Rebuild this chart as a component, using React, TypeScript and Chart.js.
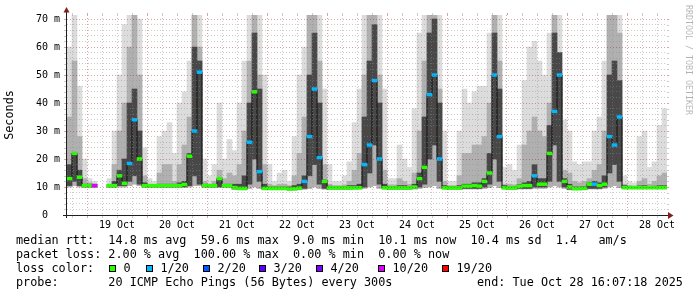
import React, { useEffect, useRef } from 'react';
import { Chart, registerables } from 'chart.js';

Chart.register(...registerables);

// time axis in hours since 18 Oct 2025 00:00; data consolidated into 2-hour bins
const X_START = 16;
const X_END = 256;
const BIN_HOURS = 2;

const dayLabels = ['19 Oct', '20 Oct', '21 Oct', '22 Oct', '23 Oct', '24 Oct', '25 Oct', '26 Oct', '27 Oct', '28 Oct'];
const dayLabelHours = [36, 60, 84, 108, 132, 156, 180, 204, 228, 252];

const yTickValues = [0, 10, 20, 30, 40, 50, 60, 70];
const yTickLabels = ['0  ', '10 m', '20 m', '30 m', '40 m', '50 m', '60 m', '70 m'];

// smoke: highest ping (light layer top)
const smokeMax = [
  60, 72, 46, 20,
  13, 12, null, null, 13, 30, 50, 68, 72, 72, 70, 24,
  13, 12, 28, 30, 33, 22, 40, 44, 55, 72, 72, 20,
  14, 18, 40, 20, 27, 23, 40, 55, 72, 72, 72, 50,
  18, 12, 15, 16, 12, 28, 50, 60, 72, 72, 72, 45,
  18, 12, 12, 14, 19, 33, 45, 72, 72, 72, 72, 45,
  13, 13, 25, 20, 17, 38, 65, 72, 72, 72, 72, 30,
  12, 12, 30, 45, 40, 44, 46, 46, 65, 72, 72, 17,
  18, 16, 25, 48, 60, 62, 55, 50, 65, 72, 72, 34,
  30, 19, 18, 19, 19, 30, 35, 55, 72, 72, 72, 14,
  12, 11.5, 28, 30, 17, 19, 32, 38,
];

// smoke: upper pings (mid layer top)
const smokeHigh = [
  35, 55, 28, 13,
  11.5, 11, null, null, 11, 18, 30, 40, 60, 72, 50, 14,
  11, 10.8, 15, 18, 18, 12, 18, 25, 35, 72, 60, 12,
  11, 12, 16, 13, 15, 14, 18, 30, 55, 72, 50, 18,
  11, 10.5, 11, 11, 10.5, 14, 22, 35, 72, 72, 55, 18,
  11, 10.5, 10.5, 10.8, 12, 16, 22, 50, 72, 72, 50, 16,
  10.8, 10.8, 13, 12, 11, 15, 30, 55, 72, 72, 45, 12,
  10.5, 10.5, 14, 22, 22, 25, 25, 28, 40, 72, 55, 11,
  11, 10.8, 13, 25, 30, 35, 30, 28, 40, 72, 50, 16,
  15, 12, 11.5, 12, 13, 16, 18, 30, 72, 72, 65, 11,
  10.5, 10.3, 12, 13, 11, 12, 14, 15,
];

// smoke: dense core around the median
const darkLo = [
  10.5, 12, 10.5, 10,
  10, 10, null, null, 10, 10, 10.5, 10.5, 12, 14, 11, 10,
  10, 10, 10, 10, 10, 10, 10, 10, 10.5, 14, 11, 10,
  10, 10, 10, 10, 10, 9.3, 9.2, 9.2, 11, 20, 12, 9.2,
  9.2, 9.2, 9.2, 9.2, 9, 9, 9.3, 9.5, 14, 18, 11, 9.5,
  9.3, 9.3, 9.3, 9.3, 9.3, 9.4, 9.5, 10, 15, 25, 11, 9.5,
  9.3, 9.3, 9.3, 9.3, 9.3, 9.5, 10, 11, 20, 25, 12, 9.5,
  9.3, 9.3, 9.3, 9.5, 9.5, 9.5, 9.5, 10, 11, 20, 12, 9.5,
  9.3, 9.3, 9.5, 9.5, 9.5, 10, 10, 10, 12, 25, 12, 10,
  9.2, 9.1, 9.1, 9.2, 9.5, 9.5, 9.5, 10, 15, 18, 12, 9.5,
  9.4, 9.4, 9.4, 9.4, 9.4, 9.4, 9.4, 9.4,
];
const darkHi = [
  18, 22, 16, 11,
  11, 11, null, null, 10.8, 12, 16, 20, 40, 45, 30, 11.5,
  10.7, 10.7, 11, 11, 11, 11, 11.5, 12, 22, 60, 55, 11,
  10.8, 11, 13, 11, 11, 11, 11, 14, 40, 65, 45, 11,
  10, 10, 10, 10, 10, 10.5, 11, 14, 50, 65, 40, 12.5,
  10.3, 10.2, 10.2, 10.2, 10.5, 10.5, 11, 35, 55, 68, 40, 11,
  10.2, 10.2, 10.5, 10.5, 10.2, 11, 15, 35, 65, 70, 40, 10.5,
  10.2, 10.2, 10.5, 11, 11, 11.5, 11.5, 13, 22, 65, 45, 10.5,
  10.2, 10.2, 10.8, 11.5, 12, 18, 13, 13, 32, 65, 58, 13,
  11, 10, 10, 10.2, 11.5, 12, 11.5, 14, 50, 55, 48, 10.5,
  10.2, 10.2, 10.4, 10.5, 10.2, 10.3, 10.5, 10.5,
];

// smoke: lowest ping
const smokeMin = [
  10, 10.5, 10, 10,
  10, 10, null, null, 10, 10, 10, 10, 10.5, 11, 10.5, 10,
  10, 10, 10, 10, 10, 10, 10, 10, 10, 10.5, 10.5, 10,
  10, 10, 10, 10, 10, 9.2, 9, 9, 9.5, 10, 9.5, 9,
  9, 9, 9, 9, 8.9, 8.9, 9, 9.2, 9.5, 10, 9.5, 9.2,
  9.2, 9.2, 9.2, 9.2, 9.2, 9.2, 9.3, 9.5, 10, 10.5, 9.5, 9.3,
  9.2, 9.2, 9.2, 9.2, 9.2, 9.3, 9.5, 9.8, 10, 10.5, 9.5, 9.3,
  9.2, 9.2, 9.2, 9.3, 9.3, 9.3, 9.3, 9.5, 9.8, 10.5, 9.8, 9.3,
  9.2, 9.2, 9.3, 9.3, 9.3, 9.5, 9.5, 9.5, 10, 10.5, 10, 9.5,
  9, 9, 9, 9, 9.3, 9.3, 9.3, 9.5, 10, 10.5, 9.8, 9.3,
  9.3, 9.3, 9.3, 9.3, 9.3, 9.3, 9.3, 9.3,
];

// median rtt (ms)
const medianRtt = [
  13, 22, 13.5, 10.5,
  10.5, 10.5, null, null, 10.5, 10.5, 14, 11.3, 18.4, 34, 20, 10.5,
  10.5, 10.5, 10.5, 10.5, 10.5, 10.5, 10.5, 10.9, 21, 30, 51, 10.5,
  10.5, 10.5, 13, 10.5, 10.5, 9.8, 9.5, 9.5, 26, 44, 15.5, 9.5,
  9.5, 9.5, 9.5, 9.5, 9.3, 9.4, 9.6, 12, 28, 45, 20.5, 12,
  9.7, 9.7, 9.7, 9.7, 9.7, 9.7, 9.7, 18, 25, 48, 20, 9.7,
  9.7, 9.7, 9.7, 9.7, 9.7, 10, 13, 17, 43, 50, 20, 9.7,
  9.7, 9.7, 9.7, 10.3, 10.3, 10.5, 10.3, 12, 15, 50, 28, 9.7,
  9.7, 9.7, 10.2, 10.5, 10.5, 14, 11, 11, 22, 37, 50, 12,
  10, 9.4, 9.4, 9.6, 11, 11, 10.5, 11, 28, 25, 35, 9.8,
  9.8, 9.8, 9.8, 9.8, 9.8, 9.8, 9.8, 9.8,
];

// lost pings out of 20
const lossCount = [
  0, 0, 0, 0,
  0, 10, null, null, 0, 0, 0, 0, 1, 1, 0, 0,
  0, 0, 0, 0, 0, 0, 0, 0, 0, 1, 1, 0,
  0, 0, 0, 0, 0, 0, 0, 0, 1, 0, 1, 0,
  0, 0, 0, 0, 0, 0, 0, 1, 1, 1, 1, 0,
  0, 0, 0, 0, 0, 0, 0, 1, 1, 1, 1, 0,
  0, 0, 0, 0, 0, 0, 0, 0, 1, 1, 1, 0,
  0, 0, 0, 0, 0, 0, 0, 0, 0, 1, 1, 0,
  0, 0, 0, 0, 0, 1, 0, 0, 0, 1, 1, 0,
  0, 0, 0, 0, 0, 1, 0, 0, 1, 1, 1, 0,
  0, 0, 0, 0, 0, 0, 0, 0,
];

const lossLevels = [0, 1, 2, 3, 4, 10, 19];
const lossLabels = ['0', '1/20', '2/20', '3/20', '4/20', '10/20', '19/20'];
const lossLevelColors = ['#26ff00', '#00b8ff', '#0059ff', '#5e00ff', '#7e00ff', '#dd00ff', '#ff0000'];

const legendRtt = 'median rtt:  14.8 ms avg  59.6 ms max  9.0 ms min  10.1 ms now  10.4 ms sd  1.4   am/s';
const legendLoss = 'packet loss: 2.00 % avg  100.00 % max  0.00 % min  0.00 % now';
const legendLossTitle = 'loss color:';
const legendProbe = 'probe:       20 ICMP Echo Pings (56 Bytes) every 300s';
const legendEnd = 'end: Tue Oct 28 16:07:18 2025';
const watermark = 'RRDTOOL / TOBI OETIKER';
const yTitle = 'Seconds';

const GRID = 'rgba(140,140,140,0.45)';
const MGRID = 'rgba(150,30,30,0.4)';
const AXIS = '#1f1f1f';
const ARROW = '#7f1f1f';
const MONO = "'DejaVu Sans Mono', monospace";

const gridHours: number[] = [];
for (let h = 18; h <= 252; h += 6) gridHours.push(h);
const yGridValues: number[] = [];
for (let v = 0; v <= 70; v += 2) yGridValues.push(v);

function lossColor(n: number): string {
  let c = lossLevelColors[0];
  lossLevels.forEach((lvl, i) => { if (n >= lvl) c = lossLevelColors[i]; });
  return c;
}

const binCenter = (k: number) => X_START + BIN_HOURS * k + BIN_HOURS / 2;

const decorPlugin = {
  id: 'rrdDecor',
  afterDraw(chart: any) {
    const { ctx, chartArea, scales } = chart;
    const { left, right, top, bottom } = chartArea;
    const xs = scales.x;
    const ys = scales.y;
    ctx.save();
    ctx.lineWidth = 1;
    // short grid ticks outside the plot area
    for (const h of gridHours) {
      const px = Math.round(xs.getPixelForValue(h)) + 0.5;
      ctx.strokeStyle = h % 24 === 0 ? MGRID : GRID;
      ctx.beginPath();
      ctx.moveTo(px, top - 2); ctx.lineTo(px, top);
      ctx.moveTo(px, bottom + 1); ctx.lineTo(px, bottom + 3);
      ctx.stroke();
    }
    for (const v of yGridValues) {
      if (v === 0) continue;
      const py = Math.round(ys.getPixelForValue(v)) + 0.5;
      ctx.strokeStyle = v % 10 === 0 ? MGRID : GRID;
      ctx.beginPath();
      ctx.moveTo(left - 3, py); ctx.lineTo(left - 1, py);
      ctx.moveTo(right, py); ctx.lineTo(right + 2, py);
      ctx.stroke();
    }
    // axes
    ctx.strokeStyle = AXIS;
    ctx.beginPath();
    ctx.moveTo(left - 4, bottom + 0.5); ctx.lineTo(right + 2, bottom + 0.5);
    ctx.moveTo(left - 0.5, bottom + 3); ctx.lineTo(left - 0.5, top - 3);
    ctx.stroke();
    // arrows
    ctx.fillStyle = ARROW;
    ctx.beginPath();
    ctx.moveTo(left - 3.5, top - 2.5); ctx.lineTo(left + 2.5, top - 2.5); ctx.lineTo(left - 0.5, top - 8);
    ctx.closePath(); ctx.fill();
    ctx.beginPath();
    ctx.moveTo(right + 1, bottom - 3); ctx.lineTo(right + 1, bottom + 4); ctx.lineTo(right + 6.5, bottom + 0.5);
    ctx.closePath(); ctx.fill();

    // legend
    ctx.fillStyle = '#000';
    ctx.font = `11.8px ${MONO}`;
    ctx.textBaseline = 'middle';
    ctx.textAlign = 'left';
    ctx.fillText(legendRtt, 16, 241);
    ctx.fillText(legendLoss, 16, 255);
    ctx.fillText(legendLossTitle, 16, 269);
    const boxX = [109, 146, 203, 259, 316, 378, 442];
    lossLabels.forEach((lab, i) => {
      ctx.fillStyle = lossLevelColors[i];
      ctx.fillRect(boxX[i], 265, 7, 7);
      ctx.strokeStyle = '#000';
      ctx.strokeRect(boxX[i] + 0.5, 265.5, 6, 6);
      ctx.fillStyle = '#000';
      ctx.fillText(lab, boxX[i] + 14.5, 269);
    });
    ctx.fillText(legendProbe, 16, 283);
    ctx.fillText(legendEnd, 477, 283);

    // watermark
    ctx.save();
    ctx.translate(688, 5);
    ctx.rotate(Math.PI / 2);
    ctx.font = `8.3px ${MONO}`;
    ctx.fillStyle = 'rgba(0,0,0,0.3)';
    ctx.textBaseline = 'middle';
    ctx.fillText(watermark, 0, 0);
    ctx.restore();
    ctx.restore();
  },
};

export default function App() {
  const canvasRef = useRef<HTMLCanvasElement | null>(null);

  useEffect(() => {
    document.body.style.margin = '0';
    const canvas = canvasRef.current;
    if (!canvas) return;

    const bins = smokeMax.map((_, k) => k).filter((k) => smokeMax[k] != null);
    const floatData = (lo: (number | null)[], hi: (number | null)[]) =>
      bins.map((k) => ({ x: binCenter(k), y: [lo[k] as number, hi[k] as number] }));
    const medBins = bins.filter((k) => medianRtt[k] != null);
    const barCommon = {
      type: 'bar' as const,
      grouped: false,
      barPercentage: 1,
      categoryPercentage: 1,
      borderWidth: 0,
    };

    const chart = new Chart(canvas, {
      type: 'bar',
      data: {
        datasets: [
          {
            ...barCommon,
            label: 'loss color',
            order: 1,
            data: medBins.map((k) => ({ x: binCenter(k), y: [(medianRtt[k] as number) - 0.5, (medianRtt[k] as number) + 0.5] })),
            backgroundColor: medBins.map((k) => lossColor(lossCount[k] as number)),
          },
          {
            type: 'line',
            label: 'median rtt',
            order: 2,
            data: medianRtt.map((m, k) => ({ x: binCenter(k), y: m })),
            stepped: 'middle',
            borderColor: '#111111',
            borderWidth: 1,
            pointRadius: 0,
            spanGaps: false,
          } as any,
          { ...barCommon, label: 'core', order: 3, data: floatData(darkLo, darkHi), backgroundColor: '#484848' },
          { ...barCommon, label: 'upper', order: 4, data: floatData(smokeMin, smokeHigh), backgroundColor: '#b0b0b0' },
          { ...barCommon, label: 'max', order: 5, data: floatData(smokeMin, smokeMax), backgroundColor: '#dcdcdc' },
        ] as any,
      },
      options: {
        animation: false,
        responsive: false,
        maintainAspectRatio: false,
        events: [],
        layout: { padding: { left: 0, top: 15, right: 30, bottom: 0 } },
        plugins: { legend: { display: false }, tooltip: { enabled: false } },
        scales: {
          x: {
            type: 'linear',
            min: X_START,
            max: X_END,
            offset: false,
            afterBuildTicks: (s: any) => { s.ticks = gridHours.map((v) => ({ value: v })); },
            afterFit: (s: any) => { s.height = 82; },
            ticks: {
              autoSkip: false,
              maxRotation: 0,
              minRotation: 0,
              padding: 4,
              color: '#000',
              font: { family: MONO, size: 10 },
              callback: (v: any) => {
                const i = dayLabelHours.indexOf(Number(v));
                return i >= 0 ? dayLabels[i] : '';
              },
            },
            grid: {
              offset: false,
              drawTicks: false,
              z: 1,
              lineWidth: 1,
              color: (c: any) => (c.tick && c.tick.value % 24 === 0 ? MGRID : GRID),
            },
            border: { display: false, dash: [1, 2] },
          },
          y: {
            type: 'linear',
            min: 0,
            max: 71.43,
            afterBuildTicks: (s: any) => { s.ticks = yGridValues.map((v) => ({ value: v })); },
            afterFit: (s: any) => { s.width = 67; },
            ticks: {
              autoSkip: false,
              padding: 7,
              color: '#000',
              font: { family: MONO, size: 10 },
              callback: (v: any) => {
                const i = yTickValues.indexOf(Number(v));
                return i >= 0 ? yTickLabels[i] : '';
              },
            },
            grid: {
              drawTicks: false,
              z: 1,
              lineWidth: 1,
              color: (c: any) => {
                const v = c.tick ? c.tick.value : 0;
                if (v === 0) return 'rgba(0,0,0,0)';
                return v % 10 === 0 ? MGRID : GRID;
              },
            },
            border: { display: false, dash: [1, 2] },
            title: {
              display: true,
              text: yTitle,
              color: '#000',
              font: { family: MONO, size: 11.8 },
              padding: { top: 3, bottom: 0 },
            },
          },
        },
      } as any,
      plugins: [decorPlugin],
    });

    return () => chart.destroy();
  }, []);

  return (
    <div style={{ width: 697, height: 297, background: '#fff' }}>
      <canvas ref={canvasRef} width={697} height={297} style={{ display: 'block', width: 697, height: 297 }} />
    </div>
  );
}
